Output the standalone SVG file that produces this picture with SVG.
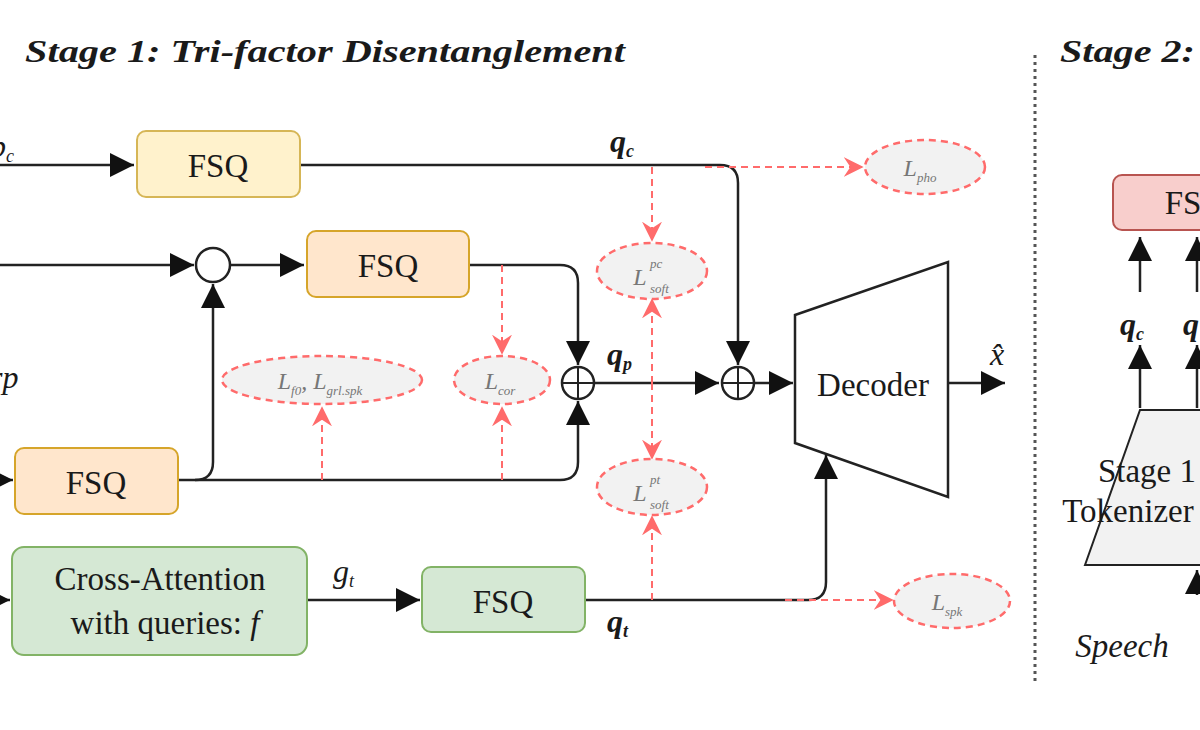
<svg xmlns="http://www.w3.org/2000/svg" width="1200" height="730" viewBox="0 0 1200 730">
<style>
text{font-family:"Liberation Serif","DejaVu Serif",serif;fill:#1a1a1a}
.t{font-size:33px;text-anchor:middle}
.m{font-style:italic;font-size:32px}
.s{font-style:italic;font-size:18px}
.title{font-size:32px;font-weight:bold;font-style:italic}
.ln{fill:none;stroke:#222;stroke-width:2.5}
.rd{fill:none;stroke:#ff6b6b;stroke-width:2;stroke-dasharray:7 5}
.el{fill:#f2f2f2;stroke:#ff6b6b;stroke-width:2.5;stroke-dasharray:7 5}
.lt{font-style:italic;font-size:24px;fill:#777;text-anchor:middle}
.ls{font-style:italic;font-size:13px;fill:#777}
</style>
<defs>
<marker id="ab" viewBox="0 0 10 10" refX="10" refY="5" markerWidth="24" markerHeight="24" markerUnits="userSpaceOnUse" orient="auto"><path d="M0,0L10,5L0,10z" fill="#111"/></marker>
<marker id="r" viewBox="0 0 12 12" refX="11" refY="6" markerWidth="20" markerHeight="20" markerUnits="userSpaceOnUse" orient="auto"><path d="M0,0L12,6L0,12L4,6z" fill="#ff6b6b"/></marker>
</defs>
<text class="title" x="25" y="62" textLength="600" lengthAdjust="spacingAndGlyphs">Stage 1: Tri-factor Disentanglement</text>
<text class="title" x="1060" y="62" textLength="135" lengthAdjust="spacingAndGlyphs">Stage 2:</text>
<line x1="1035" y1="55" x2="1035" y2="685" stroke="#555" stroke-width="3" stroke-dasharray="3 4"/>
<g id="connectors">
<path class="ln" d="M0,165H134" marker-end="url(#ab)"/>
<path class="ln" d="M300,165H720Q738,165 738,183V365" marker-end="url(#ab)"/>
<path class="ln" d="M0,265H194" marker-end="url(#ab)"/>
<path class="ln" d="M231,265H304" marker-end="url(#ab)"/>
<path class="ln" d="M469,265H560Q578,265 578,283V365" marker-end="url(#ab)"/>
<path class="ln" d="M0,480H13" marker-end="url(#ab)"/>
<path class="ln" d="M178,480H560Q578,480 578,462V401" marker-end="url(#ab)"/>
<path class="ln" d="M195,480Q213,480 213,462V284" marker-end="url(#ab)"/>
<path class="ln" d="M594,383H719" marker-end="url(#ab)"/>
<path class="ln" d="M754,383H793" marker-end="url(#ab)"/>
<path class="ln" d="M948,383H1005" marker-end="url(#ab)"/>
<path class="ln" d="M0,600H10" marker-end="url(#ab)"/>
<path class="ln" d="M307,600H420" marker-end="url(#ab)"/>
<path class="ln" d="M585,600H808Q826,600 826,582V455" marker-end="url(#ab)"/>
<path class="ln" d="M1140,408V345" marker-end="url(#ab)"/>
<path class="ln" d="M1140,292V237" marker-end="url(#ab)"/>
<path class="ln" d="M1197,408V345" marker-end="url(#ab)"/>
<path class="ln" d="M1197,292V237" marker-end="url(#ab)"/>
<path class="ln" d="M1197,595V570" marker-end="url(#ab)"/>
<path class="rd" d="M705,167H862" marker-end="url(#r)"/>
<path class="rd" d="M785,600H892" marker-end="url(#r)"/>
<path class="rd" d="M502,265V353" marker-end="url(#r)"/>
<path class="rd" d="M502,480V408" marker-end="url(#r)"/>
<path class="rd" d="M322,480V408" marker-end="url(#r)"/>
<path class="rd" d="M652,167V240" marker-end="url(#r)"/>
<path class="rd" d="M652,383V300" marker-end="url(#r)"/>
<path class="rd" d="M652,383V458" marker-end="url(#r)"/>
<path class="rd" d="M652,600V517" marker-end="url(#r)"/>
</g>
<g id="fsq1"><rect x="137" y="131" width="163" height="66" rx="9" fill="#fff2cc" stroke="#d6b656" stroke-width="2"/><text class="t" x="218" y="177">FSQ</text></g>
<g id="fsq2"><rect x="307" y="231" width="162" height="66" rx="9" fill="#ffe6cc" stroke="#d6a52a" stroke-width="2"/><text class="t" x="388" y="277">FSQ</text></g>
<g id="fsq3"><rect x="15" y="448" width="163" height="66" rx="9" fill="#ffe6cc" stroke="#d6a52a" stroke-width="2"/><text class="t" x="96" y="494">FSQ</text></g>
<g id="fsq4"><rect x="422" y="567" width="163" height="65" rx="9" fill="#d5e8d4" stroke="#82b366" stroke-width="2"/><text class="t" x="503" y="613">FSQ</text></g>
<g id="crossattn"><rect x="12" y="547" width="295" height="108" rx="12" fill="#d5e8d4" stroke="#82b366" stroke-width="2"/><text class="t" x="160" y="590">Cross-Attention</text><text class="t" x="165" y="634">with queries: <tspan font-style="italic">f</tspan></text></g>
<g id="minus"><circle cx="213" cy="265" r="17" fill="#fff" stroke="#222" stroke-width="2.5"/></g>
<g id="plus1"><circle cx="578" cy="383" r="16" fill="#fff" stroke="#222" stroke-width="2.5"/><path d="M562,383H594M578,367V399" stroke="#222" stroke-width="2"/></g>
<g id="plus2"><circle cx="738" cy="383" r="16" fill="#fff" stroke="#222" stroke-width="2.5"/><path d="M722,383H754M738,367V399" stroke="#222" stroke-width="2"/></g>
<g id="decoder"><path d="M795,315L948,262V497L795,443Z" fill="#fff" stroke="#222" stroke-width="2.5"/><text class="t" x="873" y="396">Decoder</text></g>
<g id="lpho"><ellipse cx="925" cy="167" rx="60" ry="27" class="el"/><text class="lt" x="920" y="176">L<tspan class="ls" dy="6">pho</tspan></text></g>
<g id="lspk"><ellipse cx="952" cy="601" rx="58" ry="27" class="el"/><text class="lt" x="947" y="610">L<tspan class="ls" dy="6">spk</tspan></text></g>
<g id="lcor"><ellipse cx="502" cy="380" rx="48" ry="24" class="el"/><text class="lt" x="500" y="389">L<tspan class="ls" dy="6">cor</tspan></text></g>
<g id="lf0"><ellipse cx="322" cy="380" rx="100" ry="24" class="el"/><text class="lt" x="320" y="389">L<tspan class="ls" dy="6">f0</tspan><tspan dy="-6">, L</tspan><tspan class="ls" dy="6">grl.spk</tspan></text></g>
<g id="lpc"><ellipse cx="652" cy="271" rx="55" ry="28" class="el"/><text class="lt" x="640" y="285">L</text><text class="ls" x="650" y="268">pc</text><text class="ls" x="650" y="293">soft</text></g>
<g id="lpt"><ellipse cx="652" cy="487" rx="55" ry="28" class="el"/><text class="lt" x="640" y="501">L</text><text class="ls" x="650" y="484">pt</text><text class="ls" x="650" y="509">soft</text></g>
<g id="labels">
<text class="m" x="-10" y="157">p<tspan class="s" dy="5">c</tspan></text>
<text class="m" x="-10" y="388">rp</text>
<text class="m" x="610" y="152" font-weight="bold">q<tspan class="s" dy="5">c</tspan></text>
<text class="m" x="607" y="365" font-weight="bold">q<tspan class="s" dy="5">p</tspan></text>
<text class="m" x="607" y="632" font-weight="bold">q<tspan class="s" dy="5">t</tspan></text>
<text class="m" x="333" y="582">g<tspan class="s" dy="5">t</tspan></text>
<text class="m" x="990" y="365">x̂</text>
<text class="m" x="1120" y="335" font-weight="bold">q<tspan class="s" dy="5">c</tspan></text>
<text class="m" x="1183" y="335" font-weight="bold">q</text>
</g>
<g id="stage2fsq"><rect x="1113" y="175" width="120" height="55" rx="9" fill="#f8cecc" stroke="#b85450" stroke-width="2"/><text class="t" x="1195" y="214">FSQ</text></g>
<g id="stage1tok"><path d="M1085,565L1140,410H1260L1300,565Z" fill="#f2f2f2" stroke="#222" stroke-width="2"/><text class="t" x="1147" y="482" text-anchor="start">Stage 1</text><text class="t" x="1128" y="522" text-anchor="start">Tokenizer</text></g>
<text class="t" x="1122" y="657" text-anchor="start" font-style="italic">Speech</text>
</svg>
